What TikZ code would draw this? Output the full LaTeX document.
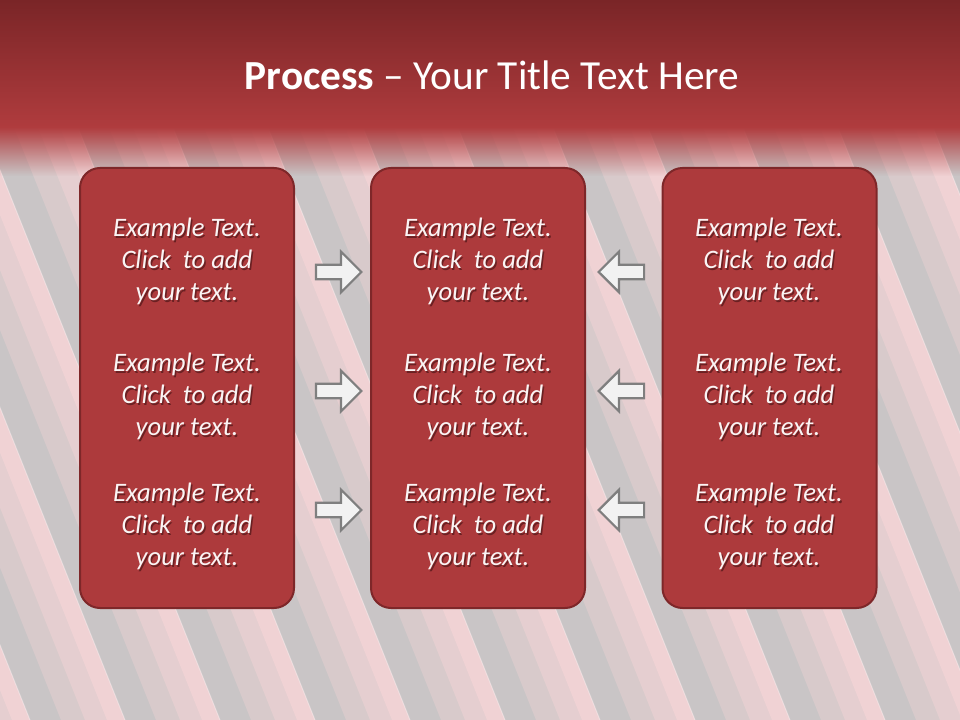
\documentclass[tikz,border=0pt]{standalone}
\usepackage{fontspec}
\setmainfont{Carlito}
\usetikzlibrary{shapes.arrows,fadings}
\definecolor{bggray}{HTML}{C9C5C6}
\definecolor{hdrtop}{HTML}{7A2527}
\definecolor{hdrbot}{HTML}{B03C3E}
\definecolor{boxfill}{HTML}{AD3A3C}
\definecolor{boxline}{HTML}{7E2729}
\definecolor{stripepink}{HTML}{FFD8DA}
\definecolor{arrowfill}{HTML}{F2F2F2}
\definecolor{arrowline}{HTML}{7F7F7F}
\definecolor{txt}{HTML}{FAF4F4}
\definecolor{txtshadow}{HTML}{6A2022}
\tikzfading[name=fadedown, top color=transparent!0, bottom color=transparent!100]
\tikzset{
  panel/.style={draw=boxline, line width=1.5pt, fill=boxfill, rounded corners=15pt,
    minimum width=160.5pt, minimum height=330pt},
  etext/.style={font=\fontsize{20}{24}\selectfont\itshape, align=center, text=txt},
  blockarrow/.style={single arrow, draw=arrowline, fill=arrowfill, line width=1.6pt,
    minimum height=34pt, inner xsep=0pt, inner ysep=4.6pt, single arrow head extend=9.8pt, outer sep=0pt},
  titletext/.style={text=white, font=\fontsize{31}{36}\selectfont}
}
\newcommand{\shln}[1]{\makebox[0pt][l]{\hspace{1.1pt}\raisebox{-1.6pt}[0pt][0pt]{\textcolor{txtshadow}{#1}}}#1}
\newcommand{\extext}{\shln{Example Text.}\\\shln{Click\ \ to add}\\\shln{your text.}}
\newcommand{\exblock}[3]{\node[etext] (#1) at (#2,#3) {\extext};}
\begin{document}
\begin{tikzpicture}[x=0.75pt,y=-0.75pt]
\useasboundingbox (0,0) rectangle (960,720);
\fill[bggray] (0,0) rectangle (960,720);
% diagonal stripes
\begin{scope}
  \clip (0,100) rectangle (960,720);
  \foreach \a in {-313,-218,-123,-28,67,162,257,352,447,542,637,732,827,922} {
    \fill[stripepink, opacity=0.28] (\a-64,100) -- (\a,100) -- (\a+252,730) -- (\a+188,730) -- cycle;
    \fill[stripepink, opacity=0.35] (\a-40,100) -- (\a,100) -- (\a+252,730) -- (\a+212,730) -- cycle;
    \fill[stripepink, opacity=0.45] (\a-18,100) -- (\a,100) -- (\a+252,730) -- (\a+234,730) -- cycle;
    \draw[white, opacity=0.3, line width=0.8pt] (\a,100) -- (\a+252,730);
  }
\end{scope}
% header
\shade[top color=hdrtop, bottom color=hdrbot] (0,0) rectangle (960,128);
\fill[hdrbot, path fading=fadedown] (0,127) rectangle (960,176);
\node[titletext] (title) at (492,75) {\textbf{Process} – Your Title Text Here};
% panels
\node[panel] (boxL) at (187,388) {};
\node[panel] (boxM) at (478,388) {};
\node[panel] (boxR) at (769.5,388) {};
% texts
\exblock{tL1}{187}{261}
\exblock{tL2}{187}{396}
\exblock{tL3}{187}{526}
\exblock{tM1}{478}{261}
\exblock{tM2}{478}{396}
\exblock{tM3}{478}{526}
\exblock{tR1}{769}{261}
\exblock{tR2}{769}{396}
\exblock{tR3}{769}{526}
% arrows
\node[blockarrow] (aL1) at (335,272) {};
\node[blockarrow] (aL2) at (335,391) {};
\node[blockarrow] (aL3) at (335,510) {};
\node[blockarrow, shape border rotate=180] (aR1) at (625,272) {};
\node[blockarrow, shape border rotate=180] (aR2) at (625,391) {};
\node[blockarrow, shape border rotate=180] (aR3) at (625,510) {};
\end{tikzpicture}
\end{document}
